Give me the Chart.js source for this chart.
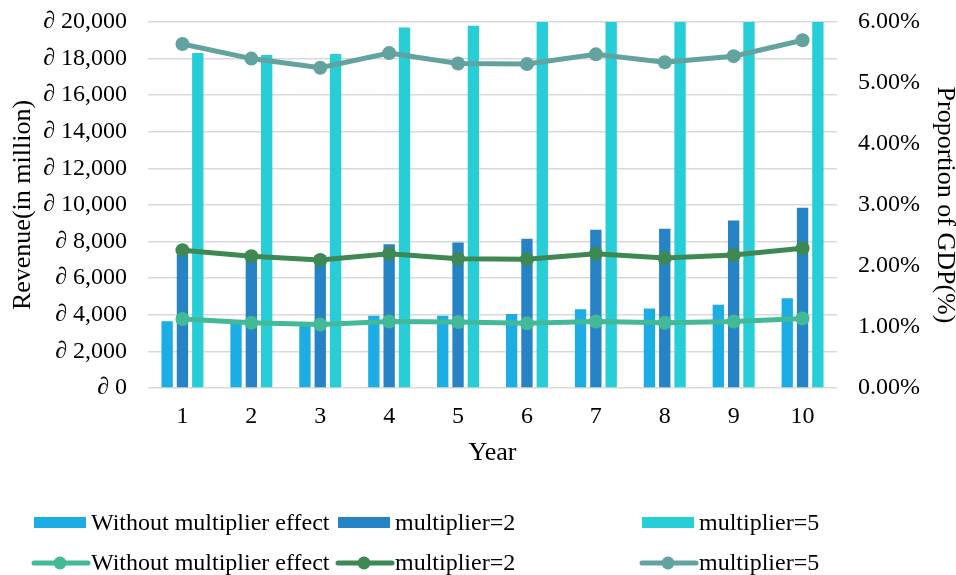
<!DOCTYPE html>
<html>
<head>
<meta charset="utf-8">
<script src="https://cdn.jsdelivr.net/npm/chart.js@4/dist/chart.umd.min.js"></script>
<style>
  html, body { margin: 0; padding: 0; background: #fff; }
  #wrap { width: 956px; height: 575px; }
</style>
</head>
<body>
<div id="wrap"><canvas id="chart" width="956" height="575"></canvas></div>
<script>
// Years on the horizontal axis
const years = ['1', '2', '3', '4', '5', '6', '7', '8', '9', '10'];

// Revenue (in million) per scenario
const revenueBase = [3650, 3600, 3600, 3950, 3950, 4050, 4300, 4350, 4550, 4900];
const revenueX2   = [7300, 7150, 7250, 7850, 7950, 8150, 8650, 8700, 9150, 9850];
const revenueX5   = [18300, 18200, 18250, 19700, 19800, 20200, 21500, 21800, 22800, 24600];

// Revenue as a share of GDP (%)
const gdpBase = [1.13, 1.07, 1.04, 1.09, 1.08, 1.06, 1.09, 1.07, 1.09, 1.14];
const gdpX2   = [2.26, 2.16, 2.10, 2.20, 2.12, 2.11, 2.20, 2.13, 2.18, 2.29];
const gdpX5   = [5.64, 5.40, 5.25, 5.49, 5.32, 5.31, 5.47, 5.34, 5.44, 5.70];

// Series names
const seriesNames = ['Without multiplier effect', 'multiplier=2', 'multiplier=5'];

const FONT = 'Liberation Serif, Times New Roman, serif';
const FS = 24;      // tick labels and legend
const TFS = 26;     // axis titles
const barColors = ['#1CADE4', '#2683C6', '#27CED7'];
const lineColors = ['#42BA97', '#3E8853', '#62A39F'];
const CLEAR = 'rgba(0,0,0,0)';

const barSets = [revenueBase, revenueX2, revenueX5].map((d, i) => ({
  type: 'bar',
  label: seriesNames[i],
  data: d,
  yAxisID: 'y',
  backgroundColor: barColors[i],
  borderWidth: 0,
  categoryPercentage: 0.667,
  barPercentage: 0.74,
  order: 1
}));

const lineSets = [gdpBase, gdpX2, gdpX5].map((d, i) => ({
  type: 'line',
  label: seriesNames[i],
  data: d,
  yAxisID: 'y1',
  borderColor: lineColors[i],
  backgroundColor: lineColors[i],
  borderWidth: 5,
  pointRadius: 7,
  pointHoverRadius: 7,
  pointBorderWidth: 0,
  pointBackgroundColor: lineColors[i],
  tension: 0,
  fill: false,
  order: 0
}));

// Three-column legend below the plot: bar series on the first row, line series on the second
const columnLegend = {
  id: 'columnLegend',
  afterDraw(chart) {
    const ctx = chart.ctx;
    const cols = [34, 338, 642];
    const rows = [523, 563];
    ctx.save();
    ctx.font = FS + 'px ' + FONT;
    ctx.textBaseline = 'middle';
    ctx.textAlign = 'left';
    chart.data.datasets.forEach((ds, i) => {
      const row = ds.type === 'bar' ? 0 : 1;
      const col = i % 3;
      const x = cols[col];
      const y = rows[row];
      if (row === 0) {
        ctx.fillStyle = ds.backgroundColor;
        ctx.fillRect(x, y - 6, 52, 11);
      } else {
        ctx.strokeStyle = ds.borderColor;
        ctx.lineWidth = 5;
        ctx.lineCap = 'round';
        ctx.beginPath();
        ctx.moveTo(x, y);
        ctx.lineTo(x + 54, y);
        ctx.stroke();
        ctx.fillStyle = ds.borderColor;
        ctx.beginPath();
        ctx.arc(x + 26, y, 6.5, 0, Math.PI * 2);
        ctx.fill();
      }
      ctx.fillStyle = '#000';
      ctx.fillText(ds.label, x + 57, y + 1);
    });
    ctx.restore();
  }
};

new Chart(document.getElementById('chart'), {
  data: {
    labels: years,
    datasets: [...barSets, ...lineSets]
  },
  options: {
    responsive: false,
    animation: false,
    devicePixelRatio: 1,
    layout: { padding: { top: 22, bottom: 109, left: 0, right: 0 } },
    plugins: {
      legend: { display: false },
      tooltip: { enabled: false }
    },
    scales: {
      x: {
        grid: { display: false, drawTicks: false },
        border: { display: false },
        ticks: { color: '#000', font: { family: FONT, size: FS }, padding: 14, maxRotation: 0 },
        title: { display: true, text: 'Year', color: '#000', font: { family: FONT, size: TFS, lineHeight: 1 }, padding: 0 },
        afterFit(s) { s.height = 78; }
      },
      y: {
        position: 'left',
        min: 0,
        max: 20000,
        ticks: {
          stepSize: 2000,
          color: '#000',
          padding: 0,
          font: { family: FONT, size: FS },
          callback: v => '\u2202 ' + v.toLocaleString('en-US')
        },
        // invisible tick marks keep the labels clear of the plot edge
        grid: { color: '#D9D9D9', lineWidth: 1.5, drawTicks: true, tickLength: 21, tickColor: CLEAR },
        border: { display: false },
        title: { display: true, text: 'Revenue(in million)', color: '#000', font: { family: FONT, size: TFS, lineHeight: 1 }, padding: { top: 10, bottom: 0 } },
        afterFit(s) { s.width = 148; }
      },
      y1: {
        position: 'right',
        min: 0,
        max: 6,
        ticks: {
          stepSize: 1,
          color: '#000',
          padding: 0,
          font: { family: FONT, size: FS },
          callback: v => v.toFixed(2) + '%'
        },
        grid: { drawOnChartArea: false, drawTicks: true, tickLength: 21, tickColor: CLEAR },
        border: { display: false },
        title: { display: true, text: 'Proportion of GDP(%)', color: '#000', font: { family: FONT, size: TFS, lineHeight: 0.85 }, padding: 0 },
        afterFit(s) { s.width = 119; }
      }
    }
  },
  plugins: [columnLegend]
});
</script>
</body>
</html>
